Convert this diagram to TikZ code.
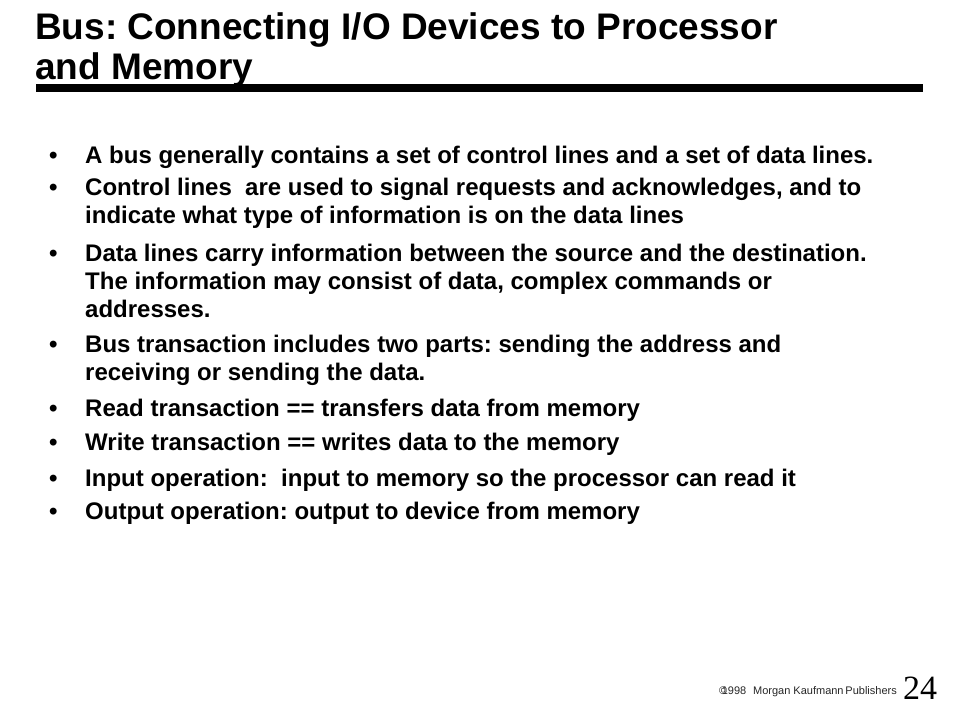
\documentclass[tikz,border=0pt]{standalone}
\usepackage{fontspec}
\setmainfont{Liberation Sans}
\newfontfamily\numfont{Liberation Serif}
\frenchspacing
\tikzset{
  slidetitle/.style={anchor=base west, inner sep=0pt, font=\fontsize{37}{40}\selectfont\bfseries},
  bullettext/.style={anchor=base west, inner sep=0pt, font=\fontsize{24}{28}\selectfont\bfseries},
  footer/.style={anchor=base west, inner sep=0pt, text=black!85, font=\fontsize{11}{13}\selectfont}
}
\begin{document}
\begin{tikzpicture}[x=1pt,y=-1pt]
    \useasboundingbox (0,0) rectangle (960,720);
    % title and rule
    \node[slidetitle] (t1) at (35,39) {Bus: Connecting I/O Devices to Processor};
    \node[slidetitle] (t2) at (35,79) {and Memory};
    \coordinate (rl) at (36,88); \coordinate (rr) at (923,88);
    \draw[line width=8pt] (rl) -- (rr);

    % bullet points
    \coordinate (p1) at (85,163); \coordinate (p2) at (85,195);
    \coordinate (p3) at (85,261); \coordinate (p4) at (85,352);
    \coordinate (p5) at (85,416); \coordinate (p6) at (85,450);
    \coordinate (p7) at (85,486); \coordinate (p8) at (85,519);
    \node[bullettext] (b1) at (p1) {A bus generally contains a set of control lines and a set of data lines.};
    \node[bullettext] (b2) at (p2) {\vtop{\hbox{Control lines~ are used to signal requests and acknowledges, and to}
      \hbox{indicate what type of information is on the data lines}}};
    \node[bullettext] (b3) at (p3) {\vtop{\hbox{Data lines carry information between the source and the destination.}
      \hbox{The information may consist of data, complex commands or}\hbox{addresses.}}};
    \node[bullettext] (b4) at (p4) {\vtop{\hbox{Bus transaction includes two parts: sending the address and}
      \hbox{receiving or sending the data.}}};
    \node[bullettext] (b5) at (p5) {Read transaction == transfers data from memory};
    \node[bullettext] (b6) at (p6) {Write transaction == writes data to the memory};
    \node[bullettext] (b7) at (p7) {Input operation:~ input to memory so the processor can read it};
    \node[bullettext] (b8) at (p8) {Output operation: output to device from memory};
    \foreach \p in {p1,p2,p3,p4,p5,p6,p7,p8}
      \node[bullettext, xshift=-36pt] at (\p) {\textbullet};

    % footer
    \node[footer] (copy) at (719,694) {\copyright\kern-0.5em1998};
    \node[footer, anchor=base east] (pub) at (897,694) {Morgan Kaufmann\,Publishers};
    \node[anchor=base west, inner sep=0pt, font=\fontsize{34}{36}\selectfont\numfont] (num) at (903,699) {24};
\end{tikzpicture}
\end{document}
